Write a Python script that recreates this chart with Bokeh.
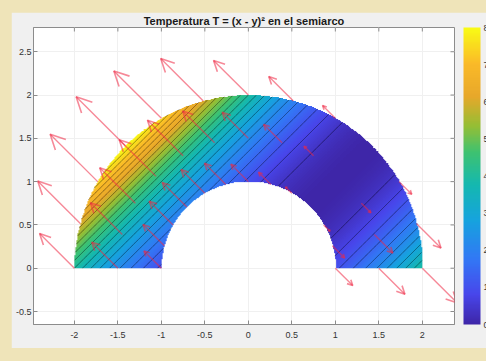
import numpy as np
from bokeh.plotting import figure
from bokeh.models import LinearColorMapper, ColorBar, FixedTicker, Range1d
from bokeh.embed import file_html
from bokeh.resources import INLINE

# ---------------- data ----------------
title_text = "Temperatura T = (x - y)\u00b2 en el semiarco"
r_inner = 1.0
r_outer = 2.0
arrow_radii = [1.0, 1.5, 2.0]
arrow_angles_deg = [0, 15, 30, 45, 60, 75, 90, 105, 120, 135, 150, 165, 180]
arrow_scale = 0.1
T_low = 0.0
T_high = 8.0
n_contour_steps = 22
x_ticks = [-2, -1.5, -1, -0.5, 0, 0.5, 1, 1.5, 2]
x_tick_labels = ["-2", "-1.5", "-1", "-0.5", "0", "0.5", "1", "1.5", "2"]
y_ticks = [-0.5, 0, 0.5, 1, 1.5, 2, 2.5]
y_tick_labels = ["-0.5", "0", "0.5", "1", "1.5", "2", "2.5"]
cbar_ticks = [0, 1, 2, 3, 4, 5, 6, 7, 8]
x_lim = (-2.47, 2.37)
y_lim = (-0.65, 2.78)

# parula-like anchors (position, r, g, b)
parula_anchors = [
    (0.00, 62, 38, 168),
    (0.10, 72, 70, 235),
    (0.22, 50, 120, 245),
    (0.35, 22, 163, 222),
    (0.47, 20, 184, 176),
    (0.58, 62, 194, 112),
    (0.67, 150, 190, 52),
    (0.77, 232, 168, 42),
    (0.88, 250, 186, 40),
    (1.00, 249, 251, 21),
]


def temperature(x, y):
    return (x - y) ** 2


pos = np.array([a[0] for a in parula_anchors])
rgb = np.array([a[1:] for a in parula_anchors], dtype=float)
tt = np.linspace(0, 1, 256)
palette = ["#%02x%02x%02x" % tuple(int(round(np.interp(t, pos, rgb[:, k]))) for k in range(3)) for t in tt]

mapper = LinearColorMapper(palette=palette, low=T_low, high=T_high, nan_color="rgba(0, 0, 0, 0)")

# ---------------- figure ----------------
BORDER = "#f0f0f0"
AX = "#8c8c8c"
FONT = "Liberation Sans"

p = figure(width=475, height=336,
           x_range=Range1d(*x_lim), y_range=Range1d(*y_lim),
           output_backend="svg", toolbar_location=None,
           min_border_left=22, min_border_right=32, min_border_top=15, min_border_bottom=24,
           background_fill_color="white", border_fill_color=BORDER,
           outline_line_color=AX)
p.margin = (12, 0, 0, 11)

p.title.text = title_text
p.title.align = "center"
p.title.text_font = FONT
p.title.text_font_size = "11px"
p.title.text_font_style = "bold"
p.title.text_color = "#1a1a1a"
p.title.standoff = 1

p.grid.grid_line_color = "#f0f0f0"
p.xgrid.ticker = FixedTicker(ticks=x_ticks)
p.ygrid.ticker = FixedTicker(ticks=y_ticks)


def style_axis(ax, ticks, labels):
    ax.ticker = FixedTicker(ticks=ticks)
    ax.major_label_overrides = {t: l for t, l in zip(ticks, labels)}
    ax.major_tick_in = 4
    ax.major_tick_out = 0
    ax.minor_tick_line_color = None
    ax.axis_line_color = AX
    ax.major_tick_line_color = AX
    ax.major_label_text_font = FONT
    ax.major_label_text_font_size = "9px"
    ax.major_label_text_color = "#333333"
    ax.major_label_standoff = 2


style_axis(p.xaxis[0], x_ticks, x_tick_labels)
style_axis(p.yaxis[0], y_ticks, y_tick_labels)
p.xaxis[0].major_label_standoff = 7

# box ticks on top and right edges (4 px inward)
tick_dx = 4 * (x_lim[1] - x_lim[0]) / 421
tick_dy = 4 * (y_lim[1] - y_lim[0]) / 297
p.segment(x_ticks, [y_lim[1]] * len(x_ticks), x_ticks, [y_lim[1] - tick_dy] * len(x_ticks),
          line_color=AX, line_width=1)
p.segment([x_lim[1]] * len(y_ticks), y_ticks, [x_lim[1] - tick_dx] * len(y_ticks), y_ticks,
          line_color=AX, line_width=1)

# ---------------- field ----------------
gx = np.linspace(-r_outer, r_outer, 801)
gy = np.linspace(0, r_outer, 401)
GX, GY = np.meshgrid(gx, gy)
R = np.hypot(GX, GY)
field = temperature(GX, GY)
field[(R < r_inner) | (R > r_outer)] = np.nan
p.image(image=[field], x=-r_outer, y=0, dw=2 * r_outer, dh=r_outer, color_mapper=mapper)

# ---------------- contour lines (T = level  ->  x - y = +-sqrt(level)) ----------------
levels = [T_high * k / n_contour_steps for k in range(1, n_contour_steps)]
s = np.linspace(-3, 3, 3001)
cxs, cys = [], []
for L in levels:
    for c in (np.sqrt(L), -np.sqrt(L)):
        xx = c / 2 + s
        yy = -c / 2 + s
        rr = np.hypot(xx, yy)
        inside = (rr >= r_inner) & (rr <= r_outer) & (yy >= 0)
        idx = np.where(inside)[0]
        if len(idx) == 0:
            continue
        breaks = np.where(np.diff(idx) > 1)[0]
        starts = np.concatenate([[0], breaks + 1])
        ends = np.concatenate([breaks, [len(idx) - 1]])
        for a, b in zip(starts, ends):
            seg = idx[a:b + 1]
            if len(seg) > 1:
                cxs.append(list(xx[seg]))
                cys.append(list(yy[seg]))
p.multi_line(cxs, cys, line_color="black", line_alpha=0.42, line_width=1.0)

# ---------------- gradient arrows ----------------
x0s, y0s, x1s, y1s, hx, hy = [], [], [], [], [], []
for r in arrow_radii:
    for deg in arrow_angles_deg:
        th = np.deg2rad(deg)
        x0 = r * np.cos(th)
        y0 = r * np.sin(th)
        g = 2 * (x0 - y0)
        u, v = arrow_scale * g, -arrow_scale * g
        if np.hypot(u, v) < 1e-9:
            continue
        x1, y1 = x0 + u, y0 + v
        x0s.append(x0); y0s.append(y0); x1s.append(x1); y1s.append(y1)
        a, b = 0.22, 0.11
        hx.append([x1 - a * u - b * v, x1, x1 - a * u + b * v])
        hy.append([y1 - a * v + b * u, y1, y1 - a * v - b * u])

ARROW = "#ee2844"
p.segment(x0s, y0s, x1s, y1s, line_color=ARROW, line_alpha=0.55, line_width=1.4)
p.multi_line(hx, hy, line_color=ARROW, line_alpha=0.55, line_width=1.6)

# ---------------- colorbar ----------------
cb = ColorBar(color_mapper=mapper, location=(430, 0), padding=0, width=17, height=297,
              orientation="vertical", ticker=FixedTicker(ticks=cbar_ticks),
              major_label_text_font=FONT, major_label_text_font_size="9px",
              major_label_text_color="#333333", label_standoff=3,
              major_tick_line_color=None, minor_tick_line_color=None,
              background_fill_color=None, border_line_color=None, bar_line_color=None)
p.add_layout(cb)

html = file_html(p, INLINE)
html = html.replace("</head>", "<style>html,body{margin:0;padding:0;background-color:#efe4b9;}</style></head>", 1)
open("out.html", "w").write(html)
